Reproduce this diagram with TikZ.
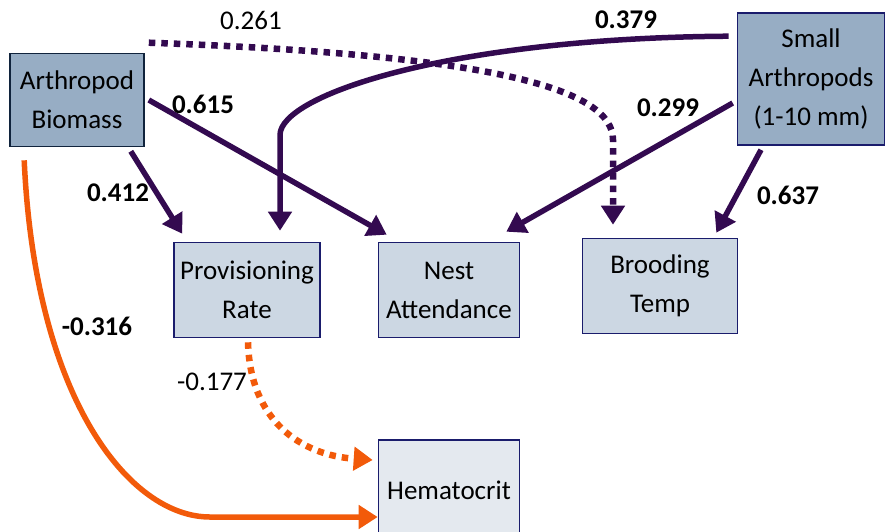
\documentclass[tikz,border=0pt]{standalone}
\usepackage{fontspec}
\setmainfont{Carlito}
\usepackage{tikz}
\usetikzlibrary{positioning, arrows.meta}
\definecolor{exfill}{HTML}{97ADC4}
\definecolor{exline}{HTML}{10233C}
\definecolor{enfill}{HTML}{CCD7E3}
\definecolor{hmfill}{HTML}{E4E9EF}
\definecolor{bxline}{HTML}{1A1C6C}
\definecolor{pospath}{HTML}{330A50}
\definecolor{negpath}{HTML}{F25A0A}
\tikzstyle{ex}=[%
      rectangle, draw=exline, line width=1.6pt, fill=exfill,
      align=center, inner sep=0pt, font=\fontsize{27}{39}\selectfont
]
\tikzstyle{en}=[%
      rectangle, draw=bxline, line width=1.6pt, fill=enfill,
      align=center, inner sep=0pt, font=\fontsize{27}{39}\selectfont
]
\tikzstyle{lbl}=[font=\fontsize{27}{30}\selectfont, inner sep=0pt]
\tikzstyle{blbl}=[font=\fontsize{27}{30}\selectfont\bfseries, inner sep=0pt]
\tikzstyle{pe}=[draw=pospath, line width=5.5pt]
\tikzstyle{ne}=[draw=negpath, line width=5.5pt]
\tikzstyle{dots}=[line width=6.5pt, dash pattern=on 6.5pt off 6pt]

\begin{document}
\begin{tikzpicture}[x=1pt, y=-1pt,
    ->,
    >={Triangle[length=19pt,width=23pt]}
  ]
    \useasboundingbox (0,0) rectangle (885,531);

    \node[ex, minimum width=134pt, minimum height=93pt]  (bio)   at (77,100)  {Arthropod\\Biomass};
    \node[ex, draw=bxline, minimum width=147pt, minimum height=132pt] (small) at (811,79) {Small\\Arthropods\\(1-10 mm)};
    \node[en, minimum width=146pt, minimum height=95pt]  (prov)  at (247,290)  {Provisioning\\Rate};
    \node[en, minimum width=141pt, minimum height=95pt]  (nest)  at (449,290)  {Nest\\Attendance};
    \node[en, minimum width=155pt, minimum height=95pt]  (brood) at (660,286)  {Brooding\\Temp};
    \node[en, fill=hmfill, minimum width=141pt, minimum height=100pt] (hema) at (449,490) {Hematocrit};

    % paths from arthropod biomass
    \draw[pe] ([xshift=-14pt,yshift=-4pt]bio.south east) -- ([xshift=9pt,yshift=8pt]prov.north west);
    \draw[pe] ([xshift=4pt]bio.east) -- ([xshift=9pt,yshift=7pt]nest.north west);
    \draw[pe, dots] ([xshift=4pt,yshift=10pt]bio.north east)
          .. controls (500,55) and (613,90) .. (613,140)
          -- ([xshift=-47pt,yshift=13pt]brood.north);
    \draw[ne] ([xshift=15pt,yshift=-13pt]bio.south west)
          .. controls (35,400) and (130,517) .. (210,517)
          -- ([yshift=-27pt]hema.west);

    % paths from small arthropods
    \draw[pe] ([xshift=-8pt,yshift=-24pt]small.north west)
          .. controls (450,38) and (280,95) .. (280,135)
          -- ([xshift=33pt,yshift=11pt]prov.north);
    \draw[pe] ([xshift=-4pt,yshift=-24pt]small.west) -- ([xshift=-14pt,yshift=10pt]nest.north east);
    \draw[pe] ([xshift=-50pt,yshift=-4pt]small.south) -- ([xshift=-22pt,yshift=5pt]brood.north east);

    % provisioning to hematocrit
    \draw[ne, dots] ([xshift=1pt,yshift=-4pt]prov.south)
          .. controls (250,420) and (300,455) .. ([xshift=-5pt,yshift=30pt]hema.west);

    % coefficients
    \node[lbl]  (l261) at (251,20)  {0.261};
    \node[blbl] (l379) at (626,20)  {0.379};
    \node[blbl] (l615) at (203,104) {0.615};
    \node[blbl] (l299) at (668,108) {0.299};
    \node[blbl] (l412) at (118,193) {0.412};
    \node[blbl] (l637) at (788,195) {0.637};
    \node[blbl] (l316) at (97,326)  {-0.316};
    \node[lbl]  (l177) at (212,382) {-0.177};

  \end{tikzpicture}
\end{document}
